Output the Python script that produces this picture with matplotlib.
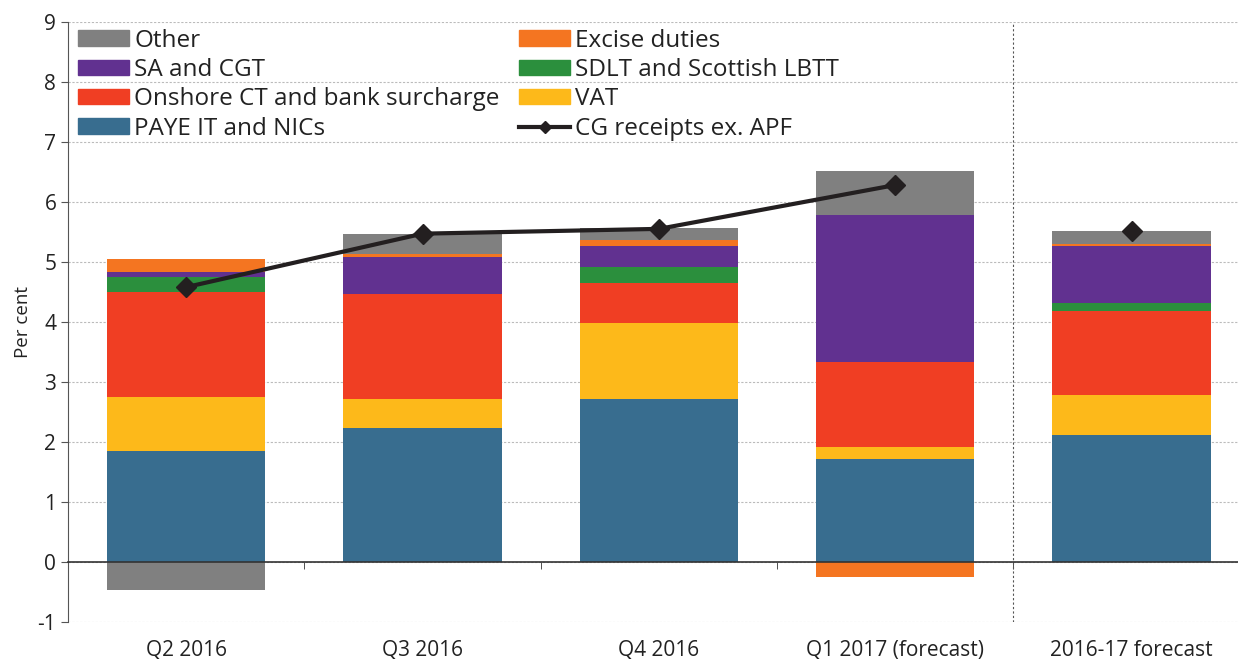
import numpy as np
import matplotlib
matplotlib.use("Agg")
import matplotlib.pyplot as plt
from matplotlib.lines import Line2D
from matplotlib.patches import Patch

plt.rcParams['font.family'] = ['Open Sans', 'DejaVu Sans']
plt.rcParams['axes.unicode_minus'] = False

periods = ["Q2 2016", "Q3 2016", "Q4 2016", "Q1 2017 (forecast)", "2016-17 forecast"]

# contributions, percentage points
paye = [1.85, 2.24, 2.71, 1.72, 2.11]
vat = [0.90, 0.47, 1.27, 0.20, 0.68]
onshore_ct = [1.75, 1.75, 0.66, 1.41, 1.39]
sdlt = [0.25, 0.00, 0.28, 0.00, 0.13]
sa_cgt = [0.08, 0.62, 0.35, 2.45, 0.96]
excise = [0.21, 0.05, 0.10, -0.25, 0.02]
other = [-0.47, 0.33, 0.19, 0.73, 0.22]

cg_receipts = [4.58, 5.47, 5.55, 6.28, 5.51]

series = [
    ("PAYE IT and NICs", paye, "#386d8f"),
    ("VAT", vat, "#fdb91a"),
    ("Onshore CT and bank surcharge", onshore_ct, "#f03e23"),
    ("SDLT and Scottish LBTT", sdlt, "#2b8f3d"),
    ("SA and CGT", sa_cgt, "#613190"),
    ("Excise duties", excise, "#f47521"),
    ("Other", other, "#808080"),
]

fig = plt.figure(figsize=(12.38, 6.59), dpi=100)
ax = fig.add_axes([0.055, 0.056, 0.945, 0.911])

x = np.arange(len(periods))
pos_base = np.zeros(len(periods))
neg_base = np.zeros(len(periods))
colors = {}
for name, vals, col in series:
    vals = np.array(vals)
    pos = np.where(vals > 0, vals, 0)
    neg = np.where(vals < 0, vals, 0)
    ax.bar(x, pos, 0.67, bottom=pos_base, color=col, zorder=2)
    ax.bar(x, neg, 0.67, bottom=neg_base, color=col, zorder=2)
    pos_base += pos
    neg_base += neg
    colors[name] = col

line_col = "#231f20"
ax.plot(x[:4], cg_receipts[:4], color=line_col, lw=3, marker="D", ms=10, zorder=4)
ax.plot(x[4:], cg_receipts[4:], color=line_col, lw=0, marker="D", ms=10, zorder=4)

ax.axvline(3.5, color="#555555", lw=0.8, ls=(0, (2, 2)), zorder=1)

ax.set_xlim(-0.5, 4.45)
ax.set_ylim(-1, 9)
ax.set_yticks(range(-1, 10))
ax.yaxis.grid(True, color="#bbbbbb", lw=0.8, ls=(0, (2, 1.5)), zorder=0)
ax.set_axisbelow(True)
ax.tick_params(axis="y", labelsize=15, length=5, color="#555555", labelcolor="#222222")
ax.set_ylabel("Per cent", fontsize=13.5, color="#222222", labelpad=4)

for side in ["top", "right"]:
    ax.spines[side].set_visible(False)
ax.spines["left"].set_color("#555555")
ax.spines["bottom"].set_position(("data", 0))
ax.spines["bottom"].set_color("#333333")
ax.spines["bottom"].set_linewidth(1.2)

ax.set_xticks(x)
ax.set_xticklabels(periods, fontsize=15, color="#222222")
ax.tick_params(axis="x", length=0, pad=56)
ax.set_xticks(x[:-1] + 0.5, minor=True)
ax.tick_params(axis="x", which="minor", length=5, color="#333333")

handles = [
    Patch(color=colors["Other"]),
    Patch(color=colors["SA and CGT"]),
    Patch(color=colors["Onshore CT and bank surcharge"]),
    Patch(color=colors["PAYE IT and NICs"]),
    Patch(color=colors["Excise duties"]),
    Patch(color=colors["SDLT and Scottish LBTT"]),
    Patch(color=colors["VAT"]),
    Line2D([], [], color=line_col, lw=3, marker="D", ms=6),
]
labels = ["Other", "SA and CGT", "Onshore CT and bank surcharge", "PAYE IT and NICs",
          "Excise duties", "SDLT and Scottish LBTT", "VAT", "CG receipts ex. APF"]
leg = ax.legend(handles, labels, ncol=2, loc="upper left", bbox_to_anchor=(-0.01, 1.025),
                frameon=False, fontsize=17.5, handlelength=2.1, handleheight=0.6,
                handletextpad=0.2, labelspacing=0.22, columnspacing=0.8)
for t in leg.get_texts():
    t.set_color("#222222")

fig.savefig("out.png", dpi=100)
